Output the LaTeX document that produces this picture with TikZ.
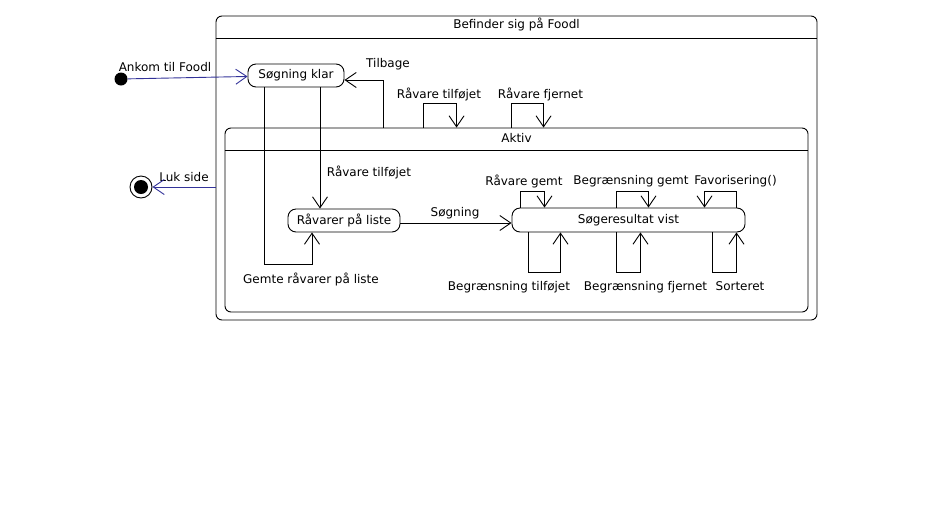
\documentclass[tikz,border=0pt]{standalone}
\usepackage{fontspec}
\setmainfont{DejaVu Sans}
\usepackage{tikz}
\usetikzlibrary{positioning,arrows.meta}
\definecolor{navy}{RGB}{51,51,153}

\begin{document}
\begin{tikzpicture}[x=1pt, y=-1pt, line width=0.9pt, every node/.style={font=\fontsize{12}{14}\selectfont, inner sep=0pt}, tr/.style={-{Straight Barb[length=11pt,width=15pt]}}, state/.style={draw, rounded corners=8pt}, super/.style={draw, rounded corners=6pt}, lbl/.style={}]
\useasboundingbox (0,0) rectangle (928,528);
% composite states
\node[super, minimum width=601pt, minimum height=304pt] (befinder) at (516.5,168) {};
\node (befinder title) at (516.5,24) {Befinder sig på Foodl};
\draw ([yshift=-23pt]befinder.north west) -- ([yshift=-23pt]befinder.north east);
\node[super, minimum width=583pt, minimum height=184pt] (aktiv) at (516.5,220) {};
\node (aktiv title) at (516.5,138) {Aktiv};
\draw ([yshift=-23pt]aktiv.north west) -- ([yshift=-23pt]aktiv.north east);
% simple states
\node[state, minimum width=96pt, minimum height=23pt] (sklar) at (296,75.5) {Søgning klar};
\node[state, minimum width=112pt, minimum height=23pt] (rliste) at (344,220.5) {Råvarer på liste};
\node[state, minimum width=233pt, minimum height=24pt] (sres) at (628.5,220) {Søgeresultat vist};
\node[circle, fill, minimum size=13pt] (start) at (121,79) {};
\node[circle, draw, minimum size=22pt] (end) at (141,187) {};
\fill (end) circle (7pt);
% labels
\node[lbl] (l ankom) at (165,67) {Ankom til Foodl};
\node[lbl] (l tilbage) at (388,64) {Tilbage};
\node[lbl] (l rtilf) at (439,94) {Råvare tilføjet};
\node[lbl] (l rfjern) at (540.5,94) {Råvare fjernet};
\node[lbl] (l luk) at (184,177) {Luk side};
\node[lbl] (l rtilf2) at (369,172) {Råvare tilføjet};
\node[lbl] (l gemte) at (311,279) {Gemte råvarer på liste};
\node[lbl] (l sogning) at (455,213) {Søgning};
\node[lbl] (l rgemt) at (524,181) {Råvare gemt};
\node[lbl] (l bgemt) at (631,181) {Begrænsning gemt};
\node[lbl] (l fav) at (735.5,181) {Favorisering()};
\node[lbl] (l btilf) at (509,287) {Begrænsning tilføjet};
\node[lbl] (l bfjern) at (645.5,287) {Begrænsning fjernet};
\node[lbl] (l sort) at (740,286) {Sorteret};
% transitions
\draw[tr, navy] (start) -- (sklar); \draw[tr, navy] (befinder.west |- end) -- (end);
\draw[tr] ([xshift=159pt]aktiv.north west) |- ([yshift=-4.5pt]sklar.east);
\draw[tr] ([xshift=199pt]aktiv.north west) -- ++(0,-24) -| ([xshift=232pt]aktiv.north west);
\draw[tr] ([xshift=287pt]aktiv.north west) -- ++(0,-24) -| ([xshift=319pt]aktiv.north west);
\draw[tr] ([xshift=-32pt]sklar.south) -- ++(0,177) -| ([xshift=-32pt]rliste.south);
\draw[tr] ([xshift=24pt]sklar.south) -- ([xshift=-24pt]rliste.north);
\draw[tr] ([yshift=-2.5pt]rliste.east) -- ([yshift=-3pt]sres.west);
\draw[tr] ([xshift=-108pt]sres.north) -- ++(0,-16) -| ([xshift=-84pt]sres.north);
\draw[tr] ([xshift=-12pt]sres.north) -- ++(0,-16) -| ([xshift=20pt]sres.north);
\draw[tr] ([xshift=108pt]sres.north) -- ++(0,-16) -| ([xshift=76pt]sres.north);
\draw[tr] ([xshift=-100pt]sres.south) -- ++(0,40) -| ([xshift=-68pt]sres.south);
\draw[tr] ([xshift=-12pt]sres.south) -- ++(0,40) -| ([xshift=12pt]sres.south);
\draw[tr] ([xshift=84pt]sres.south) -- ++(0,40) -| ([xshift=108pt]sres.south);
\end{tikzpicture}
\end{document}
